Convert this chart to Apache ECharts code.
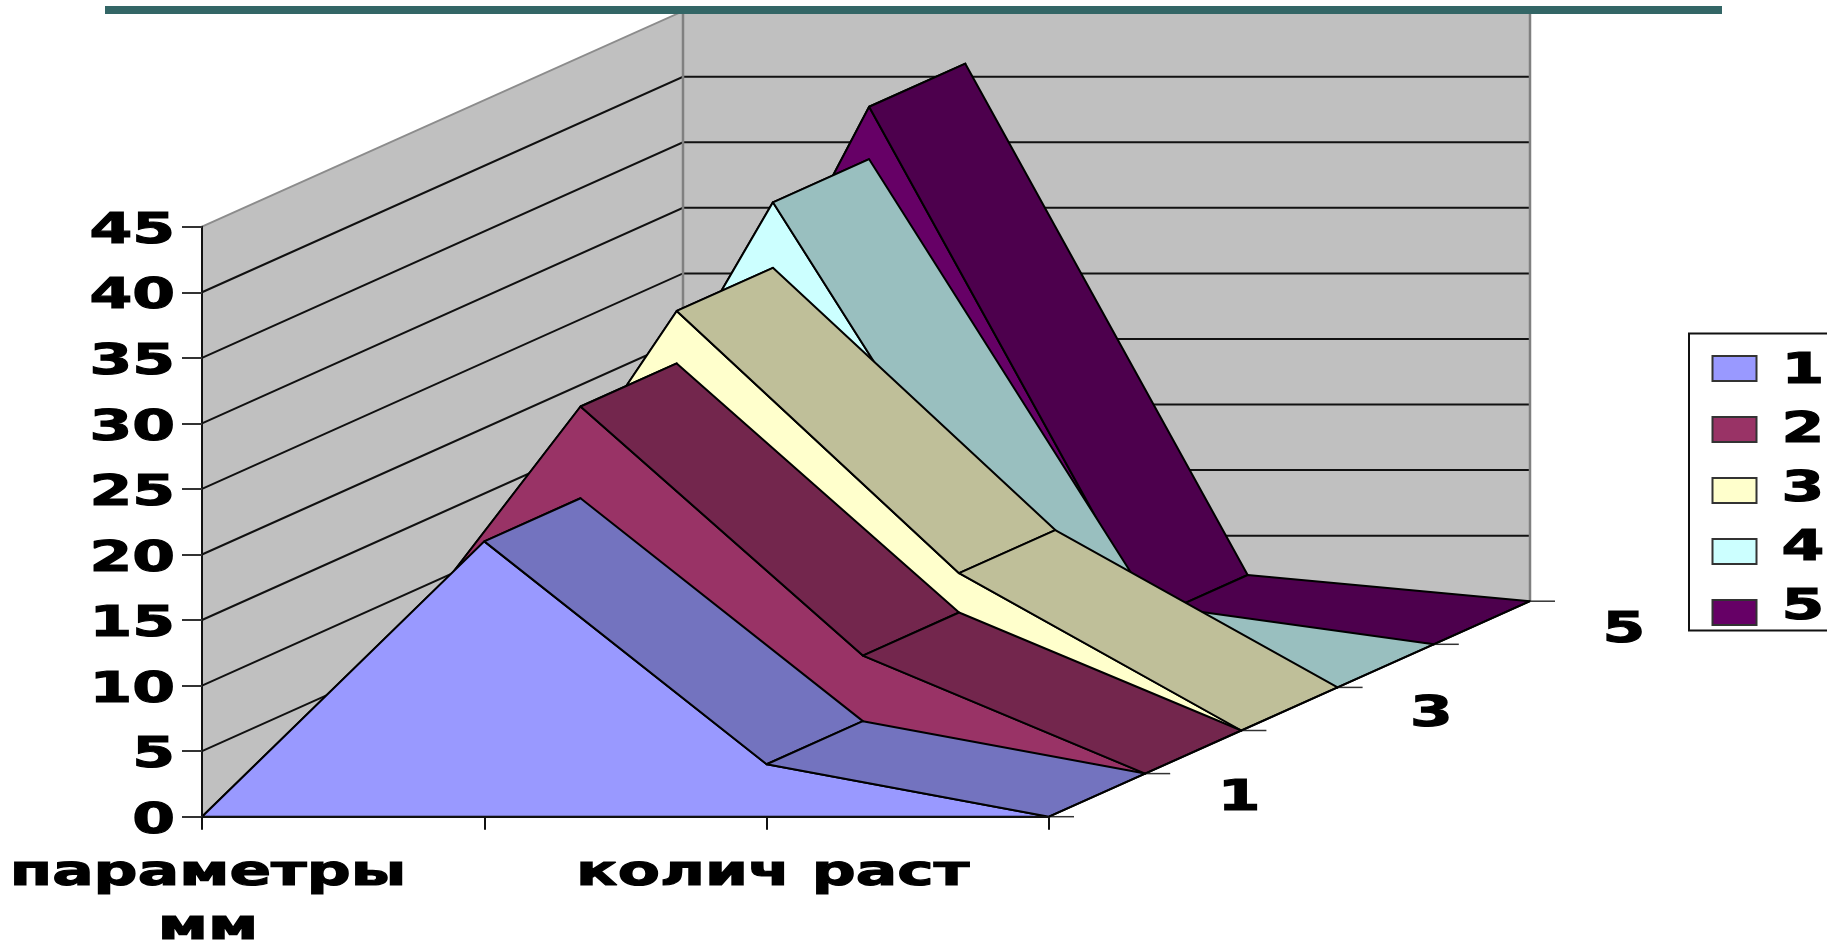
<!DOCTYPE html>
<html><head><meta charset="utf-8">
<style>html,body{margin:0;padding:0;background:#fff}#c{width:1827px;height:940px}</style>
<script src="https://cdn.jsdelivr.net/npm/echarts@6/dist/echarts.min.js"></script>
</head><body><div id="c"></div>
<script>
const categories = ['параметры\nмм', '', 'колич раст', ''];
const yTicks = [0, 5, 10, 15, 20, 25, 30, 35, 40, 45];
const seriesNames = ['1', '2', '3', '4', '5'];
const depthLabels = ['1', '', '3', '', '5'];
const series1 = [0, 21, 4, 0];
const series2 = [0, 28, 9, 0];
const series3 = [0, 32, 12, 0];
const series4 = [0, 37, 3, 0];
const series5 = [0, 41, 2, 0];
const faceColors = ['#9999FF', '#993366', '#FFFFCC', '#CCFFFF', '#660066'];
const topColors = ['#7373BF', '#73264D', '#BFBF99', '#99BFBF', '#4D004D'];
const allSeries = [series1, series2, series3, series4, series5];

const DX = 96.2, DY = -43.1, DEPTH = 5, STRETCH = 1.43, FONT = 'bold 43px "DejaVu Sans"';
const LAST = categories.length - 1, YMAX = yTicks[yTicks.length - 1];
function proj(api, x, v, z) { const p = api.coord([x, v]); return [p[0] + z * DX, p[1] + z * DY]; }
function label(text, x, y, align, va) {
  return { type: 'text', x, y, scaleX: STRETCH,
    style: { text, font: FONT, fill: '#000', stroke: '#000', lineWidth: 1.2, align, verticalAlign: va || 'middle', lineHeight: 54 } };
}

const wallsSeries = {
  type: 'custom', name: 'walls', z: 0, silent: true, data: [[0, 0]], clip: false,
  renderItem(p, api) {
    const kids = [
      { type: 'polygon', shape: { points: [proj(api,0,0,0), proj(api,0,0,DEPTH), proj(api,0,YMAX,DEPTH), proj(api,0,YMAX,0)] },
        style: { fill: '#C0C0C0', stroke: null } },
      { type: 'polygon', shape: { points: [proj(api,0,0,DEPTH), proj(api,LAST,0,DEPTH), proj(api,LAST,YMAX,DEPTH), proj(api,0,YMAX,DEPTH)] },
        style: { fill: '#C0C0C0', stroke: null } }
    ];
    yTicks.forEach(t => {
      const edge = t === YMAX;
      if (t === 0) return;
      kids.push({ type: 'polyline', shape: { points: [proj(api,0,t,0), proj(api,0,t,DEPTH), proj(api,LAST,t,DEPTH)] },
        style: { fill: null, stroke: edge ? '#8c8c8c' : '#111', lineWidth: 2 } });
    });
    kids.push({ type: 'polyline', shape: { points: [proj(api,0,0,DEPTH), proj(api,0,YMAX,DEPTH)] }, style: { fill: null, stroke: '#808080', lineWidth: 2.5 } });
    kids.push({ type: 'polyline', shape: { points: [proj(api,LAST,0,DEPTH), proj(api,LAST,YMAX,DEPTH)] }, style: { fill: null, stroke: '#808080', lineWidth: 2.5 } });
    return { type: 'group', children: kids };
  }
};

const areaSeries = allSeries.map((vals, s) => ({
  type: 'custom', name: seriesNames[s], z: 20 - s, silent: true, clip: false,
  itemStyle: { color: faceColors[s] },
  data: vals.map((v, i) => [i, v]),
  renderItem(p, api) {
    if (p.dataIndex !== 0) return null;
    const edge = { stroke: '#000', lineWidth: 2, lineJoin: 'round' };
    const band = i => ({ type: 'polygon', shape: { points: [
      proj(api,i,vals[i],s), proj(api,i+1,vals[i+1],s), proj(api,i+1,vals[i+1],s+1), proj(api,i,vals[i],s+1)] },
      style: Object.assign({ fill: topColors[s] }, edge) });
    const face = vals.map((v, i) => proj(api,i,v,s));
    face.push(proj(api,LAST,0,s), proj(api,0,0,s));
    const kids = [band(0), { type: 'polygon', shape: { points: face }, style: Object.assign({ fill: faceColors[s] }, edge) }];
    for (let i = 1; i < LAST; i++) kids.push(band(i));
    return { type: 'group', children: kids };
  }
}));

const textSeries = {
  type: 'custom', name: 'labels', z: 40, silent: true, clip: false, data: [[0, 0]],
  renderItem(p, api) {
    const kids = [];
    yTicks.forEach(t => { const q = api.coord([0, t]); kids.push(label(String(t), q[0] - 27, q[1] + 5, 'right')); });
    categories.forEach((c, i) => { if (c) { const q = api.coord([i, 0]); kids.push(label(c, q[0] + 6, q[1] + 30, 'center', 'top')); } });
    depthLabels.forEach((d, z) => {
      const pz = proj(api, LAST, 0, z + 0.5);
      if (d) kids.push(label(d, pz[0] + 142, pz[1] + 4 + z, 'center'));
    });
    for (let z = 0; z <= DEPTH; z++) {
      const q = proj(api, LAST, 0, z);
      kids.push({ type: 'line', shape: { x1: q[0], y1: q[1], x2: q[0] + 25, y2: q[1] }, style: { stroke: '#333', lineWidth: 1.5 } });
    }
    const q0 = proj(api, LAST, 0, 0), q5 = proj(api, LAST, 0, DEPTH);
    kids.push({ type: 'line', shape: { x1: q0[0], y1: q0[1], x2: q5[0], y2: q5[1] }, style: { stroke: '#000', lineWidth: 2 } });
    seriesNames.forEach((n, i) => {
      kids.push(label(n, 1803, 367.5 + i * 59 + 4, 'center'));
    });
    return { type: 'group', children: kids };
  }
};

const chart = echarts.init(document.getElementById('c'), null, { renderer: 'canvas', width: 1827, height: 940 });
chart.setOption({
  animation: false,
  backgroundColor: '#fff',
  grid: { left: 202, top: 226.7, width: 847, height: 590, containLabel: false },
  xAxis: { type: 'category', data: categories, boundaryGap: false, z: 30,
    axisLine: { show: true, lineStyle: { color: '#111', width: 2 } },
    axisTick: { show: true, interval: 0, alignWithLabel: true, length: 13, lineStyle: { color: '#111', width: 2 } },
    axisLabel: { show: false }, splitLine: { show: false } },
  yAxis: { type: 'value', min: 0, max: YMAX, interval: 5, z: 30,
    axisLine: { show: true, lineStyle: { color: '#111', width: 2 } },
    axisTick: { show: true, length: 20, lineStyle: { color: '#333', width: 2 } },
    axisLabel: { show: false }, splitLine: { show: false } },
  legend: { show: true, orient: 'vertical', left: 1711.5, top: 355, padding: 0, icon: 'rect',
    itemWidth: 44, itemHeight: 25, itemGap: 34, data: seriesNames, selectedMode: false,
    itemStyle: { borderColor: '#333', borderWidth: 2 }, formatter: () => '' },
  graphic: [
    { type: 'rect', shape: { x: 105, y: 6, width: 1617, height: 8 }, style: { fill: '#336666' }, z: 50 },
    { type: 'polyline', shape: { points: [[1829, 333.5], [1689, 333.5], [1689, 630.5], [1829, 630.5]] }, style: { fill: '#fff', stroke: '#111', lineWidth: 2 }, z: -1 }
  ],
  series: [wallsSeries, ...areaSeries, textSeries]
});
</script></body></html>
